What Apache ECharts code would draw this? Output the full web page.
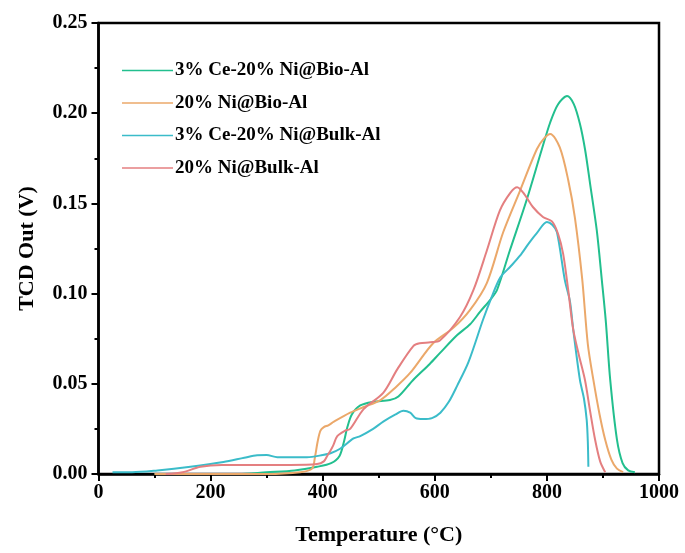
<!DOCTYPE html>
<html>
<head>
<meta charset="utf-8">
<script src="https://cdn.jsdelivr.net/npm/echarts@6/dist/echarts.min.js"></script>
<style>html,body{margin:0;padding:0;background:#fff;}#c{width:685px;height:553px;}</style>
</head>
<body>
<div id="c"></div>
<script>
var seriesNames = ['3% Ce-20% Ni@Bio-Al', '20% Ni@Bio-Al', '3% Ce-20% Ni@Bulk-Al', '20% Ni@Bulk-Al'];
var xTicks = [0, 200, 400, 600, 800, 1000];
var yTicks = [0, 0.05, 0.10, 0.15, 0.20, 0.25];

var greenT = [100, 250, 300, 350, 390, 415, 430, 438, 444, 452, 467, 490, 520, 535, 561, 591, 609, 640, 663, 681, 700, 711, 734, 764, 791, 806, 820, 836, 848, 859, 868, 877, 889, 898, 905, 913, 925, 935, 945, 957];
var greenV = [0, 0, 0.001, 0.002, 0.004, 0.006, 0.010, 0.018, 0.026, 0.033, 0.038, 0.040, 0.041, 0.043, 0.052, 0.061, 0.067, 0.077, 0.083, 0.090, 0.097, 0.102, 0.124, 0.152, 0.180, 0.195, 0.205, 0.2095, 0.205, 0.194, 0.180, 0.161, 0.135, 0.1075, 0.085, 0.052, 0.019, 0.006, 0.002, 0.001];

var orangeT = [100, 300, 360, 381, 386, 391, 396, 402, 410, 420, 449, 472, 503, 530, 556, 597, 633, 663, 693, 722, 752, 782, 795, 806, 823, 838, 850, 863, 873, 883, 894, 904, 915, 925, 936];
var orangeV = [0, 0, 0.001, 0.003, 0.009, 0.018, 0.024, 0.026, 0.027, 0.029, 0.034, 0.037, 0.041, 0.048, 0.056, 0.0725, 0.081, 0.091, 0.106, 0.134, 0.157, 0.180, 0.186, 0.1885, 0.181, 0.163, 0.142, 0.108, 0.072, 0.052, 0.033, 0.019, 0.008, 0.003, 0.001];

var cyanT = [25, 60, 105, 164, 223, 260, 283, 300, 319, 350, 372, 400, 414, 431, 455, 467, 490, 508, 530, 544, 556, 566, 579, 595, 610, 625, 640, 660, 686, 700, 717, 735, 752, 768, 782, 800, 810, 818, 832, 841, 847, 859, 866, 871, 873, 874];
var cyanV = [0.001, 0.001, 0.002, 0.004, 0.0066, 0.009, 0.0104, 0.0105, 0.0093, 0.0093, 0.0093, 0.0105, 0.0115, 0.014, 0.0197, 0.021, 0.025, 0.029, 0.033, 0.035, 0.034, 0.031, 0.0305, 0.031, 0.034, 0.040, 0.049, 0.062, 0.0855, 0.097, 0.109, 0.115, 0.121, 0.128, 0.1335, 0.1397, 0.138, 0.134, 0.1075, 0.096, 0.080, 0.052, 0.042, 0.030, 0.018, 0.004];

var redT = [120, 150, 182, 220, 253, 300, 342, 390, 402, 408, 414, 419, 426, 440, 449, 473, 508, 533, 562, 573, 592, 609, 645, 669, 693, 716, 735, 747, 760, 775, 793, 809, 820, 829, 838, 847, 857, 868, 877, 886, 895, 904];
var redV = [0, 0.001, 0.004, 0.005, 0.005, 0.005, 0.005, 0.0055, 0.007, 0.010, 0.013, 0.016, 0.021, 0.024, 0.025, 0.036, 0.045, 0.058, 0.071, 0.0725, 0.073, 0.074, 0.087, 0.102, 0.124, 0.146, 0.156, 0.159, 0.155, 0.148, 0.1425, 0.140, 0.133, 0.122, 0.102, 0.080, 0.066, 0.052, 0.035, 0.019, 0.007, 0.001];

var colors = ['#22bf8e', '#eba86a', '#3bbcc9', '#e47f80'];

function pairs(t, v) { return t.map(function (x, i) { return [x, v[i]]; }); }

var font = 'Liberation Serif, Times New Roman, serif';
var chart = echarts.init(document.getElementById('c'), null, {renderer: 'canvas'});
var data = [pairs(greenT, greenV), pairs(orangeT, orangeV), pairs(cyanT, cyanV), pairs(redT, redV)];

chart.setOption({
  animation: false,
  backgroundColor: '#fff',
  grid: {left: 98.5, right: 26, top: 23, bottom: 79, show: true, borderColor: '#000', borderWidth: 2.5, backgroundColor: 'transparent'},
  legend: {
    left: 117, top: 56, orient: 'vertical', itemGap: 13.5, itemWidth: 51, itemHeight: 19,
    icon: 'path://M0,9 L51,9 L51,10.5 L0,10.5 Z',
    data: seriesNames,
    textStyle: {fontFamily: font, fontWeight: 'bold', fontSize: 19, color: '#000', padding: [0, 0, 0, -3]}
  },
  xAxis: {
    type: 'value', min: 0, max: 1000, interval: 200,
    name: 'Temperature (°C)', nameLocation: 'middle', nameGap: 50,
    nameTextStyle: {fontFamily: font, fontWeight: 'bold', fontSize: 22, color: '#000'},
    axisLine: {show: true, lineStyle: {color: '#000', width: 2.5}},
    axisTick: {show: true, inside: false, length: 7, lineStyle: {color: '#000', width: 2}},
    minorTick: {show: true, splitNumber: 2, length: 4, lineStyle: {color: '#000', width: 2}},
    splitLine: {show: false},
    axisLabel: {fontFamily: font, fontWeight: 'bold', fontSize: 20, color: '#000', margin: 9,
      formatter: function (v) { return xTicks.indexOf(v) >= 0 ? String(v) : ''; }}
  },
  yAxis: {
    type: 'value', min: 0, max: 0.25, interval: 0.05,
    name: 'TCD Out (V)', nameLocation: 'middle', nameGap: 60,
    nameTextStyle: {fontFamily: font, fontWeight: 'bold', fontSize: 22, color: '#000'},
    axisLine: {show: true, lineStyle: {color: '#000', width: 2.5}},
    axisTick: {show: true, inside: false, length: 7, lineStyle: {color: '#000', width: 2}},
    minorTick: {show: true, splitNumber: 2, length: 4, lineStyle: {color: '#000', width: 2}},
    splitLine: {show: false},
    axisLabel: {fontFamily: font, fontWeight: 'bold', fontSize: 20, color: '#000', margin: 11,
      formatter: function (v) { return v.toFixed(2); }}
  },
  series: seriesNames.map(function (n, i) {
    return {
      name: n, type: 'line', data: data[i], smooth: 0.3, symbol: 'none',
      lineStyle: {color: colors[i], width: 2}, itemStyle: {color: colors[i]}
    };
  })
});
</script>
</body>
</html>
